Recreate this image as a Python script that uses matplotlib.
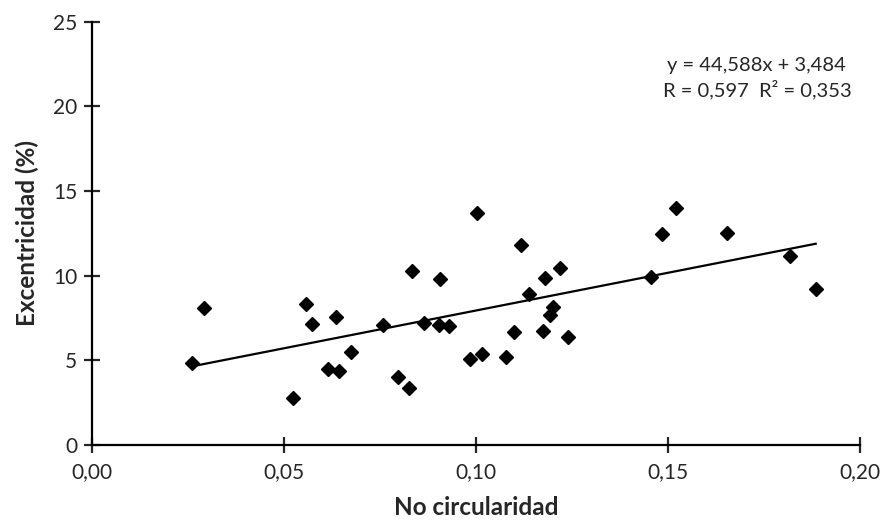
"""
Scatter plot of eccentricity against non-circularity with a linear trend line.

Writes out.png in the current directory.
"""

from __future__ import annotations

import matplotlib

matplotlib.use("Agg")
import matplotlib.pyplot as plt
import numpy as np
from matplotlib.ticker import FuncFormatter, MultipleLocator

# Data
no_circularidad = [
    0.0261, 0.0292, 0.0524, 0.0558, 0.0574, 0.0637, 0.0616, 0.0644, 0.0675,
    0.0758, 0.0835, 0.0907, 0.0798, 0.0827, 0.0866, 0.0905, 0.0931, 0.0985,
    0.1002, 0.1119, 0.1181, 0.1220, 0.1139, 0.1202, 0.1193, 0.1100, 0.1174,
    0.1240, 0.1015, 0.1078, 0.1521, 0.1484, 0.1654, 0.1455, 0.1817, 0.1885,
]
excentricidad = [
    4.82, 8.07, 2.79, 8.32, 7.14, 7.57, 4.49, 4.39, 5.51,
    7.07, 10.29, 9.78, 4.03, 3.38, 7.22, 7.08, 7.03, 5.06,
    13.71, 11.81, 9.88, 10.47, 8.93, 8.15, 7.69, 6.69, 6.75,
    6.39, 5.37, 5.21, 13.99, 12.46, 12.53, 9.94, 11.16, 9.19,
]
fit_slope = 44.588
fit_intercept = 3.484
fit_text = "y = 44,588x + 3,484\nR = 0,597  R² = 0,353"

x_label = "No circularidad"
y_label = "Excentricidad (%)"

plt.rcParams["font.family"] = ["Lato", "DejaVu Sans"]


def comma_decimal(value: float, _pos: int) -> str:
    """Format an x tick with two decimals and a decimal comma."""
    return f"{value:.2f}".replace(".", ",")


def plot_scatter(output_path: str) -> None:
    """Draw the scatter plot, the trend line and the fit summary."""
    x = np.asarray(no_circularidad, dtype=float)
    y = np.asarray(excentricidad, dtype=float)

    fig = plt.figure(figsize=(8.86, 5.23), dpi=100)
    ax = fig.add_axes([0.1035, 0.149, 0.867, 0.8095])

    ax.plot(
        x,
        y,
        linestyle="none",
        marker="D",
        markersize=7.5,
        color="black",
        zorder=3,
    )
    fit_x = np.array([x.min(), x.max()])
    ax.plot(fit_x, fit_slope * fit_x + fit_intercept, color="black", linewidth=1.6, zorder=2)

    ax.set_xlim(0, 0.20)
    ax.set_ylim(0, 25)
    ax.xaxis.set_major_locator(MultipleLocator(0.05))
    ax.yaxis.set_major_locator(MultipleLocator(5))
    ax.xaxis.set_major_formatter(FuncFormatter(comma_decimal))

    for side in ("top", "right"):
        ax.spines[side].set_visible(False)
    for side in ("left", "bottom"):
        ax.spines[side].set_linewidth(1.6)
        ax.spines[side].set_color("black")
    ax.tick_params(
        direction="inout", length=11, width=1.6, labelsize=15, colors="#262626"
    )
    ax.tick_params(axis="x", pad=7)
    ax.tick_params(axis="y", pad=5)

    ax.set_xlabel(x_label, fontsize=17.5, fontweight="bold", color="#262626", labelpad=10)
    ax.set_ylabel(y_label, fontsize=17.5, fontweight="bold", color="#262626", labelpad=10)

    ax.text(
        0.866,
        0.866,
        fit_text,
        transform=ax.transAxes,
        ha="center",
        va="center",
        fontsize=14.5,
        color="#262626",
        linespacing=1.35,
    )

    fig.savefig(output_path, dpi=100)
    plt.close(fig)


def main() -> None:
    plot_scatter("out.png")
    print("Saved plot to out.png")


if __name__ == "__main__":
    main()
